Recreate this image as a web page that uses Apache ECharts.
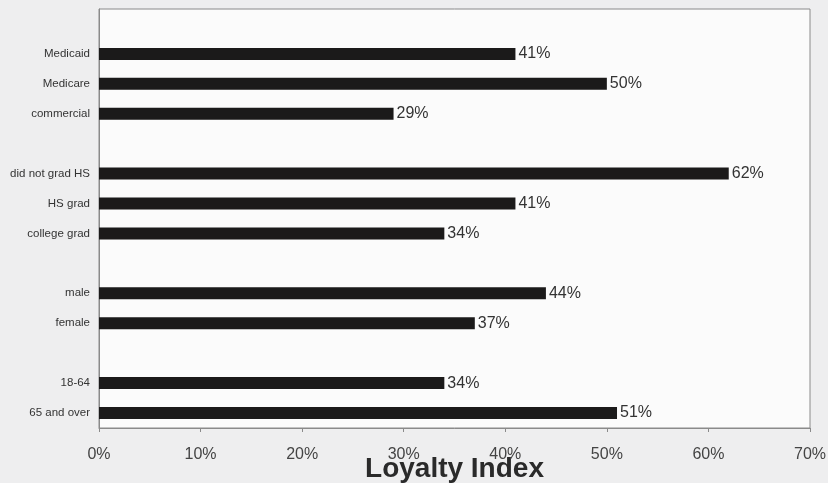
<!DOCTYPE html>
<html>
<head>
<meta charset="utf-8">
<script src="https://cdn.jsdelivr.net/npm/echarts@6/dist/echarts.min.js"></script>
<style>
  html, body { margin: 0; padding: 0; background: #eeeeef; }
  #chart { width: 828px; height: 483px; }
</style>
</head>
<body>
<div id="chart"></div>
<script>
// Groups are separated by empty category slots (top to bottom order).
const categories = ['', 'Medicaid', 'Medicare', 'commercial', '', 'did not grad HS', 'HS grad', 'college grad', '', 'male', 'female', '', '18-64', '65 and over'];
const loyalty = [null, 41, 50, 29, null, 62, 41, 34, null, 44, 37, null, 34, 51];
const xTicks = { min: 0, max: 70, step: 10 };
const axisTitle = 'Loyalty Index';

const chart = echarts.init(document.getElementById('chart'), null, { renderer: 'canvas' });

chart.setOption({
  backgroundColor: '#eeeeef',
  animation: false,
  textStyle: { fontFamily: 'Liberation Sans, Arial, sans-serif' },
  grid: {
    left: 99, right: 18, top: 9, bottom: 55,
    containLabel: false,
    outerBoundsMode: 'none',
    show: true,
    backgroundColor: '#fbfbfb',
    borderColor: '#8a8a8a',
    borderWidth: 1
  },
  xAxis: {
    type: 'value',
    min: xTicks.min,
    max: xTicks.max,
    interval: xTicks.step,
    name: axisTitle,
    nameLocation: 'middle',
    nameGap: 27,
    nameMoveOverlap: false,
    nameTextStyle: { fontSize: 28, fontWeight: 'bold', color: '#2a2a2a', fontFamily: 'Liberation Sans, Arial, sans-serif' },
    axisLine: { show: true, lineStyle: { color: '#8a8a8a', width: 1 } },
    axisTick: { show: true, inside: false, length: 4, lineStyle: { color: '#8a8a8a' } },
    axisLabel: { formatter: '{value}%', fontSize: 16, color: '#444', margin: 19 },
    splitLine: { show: false }
  },
  yAxis: {
    type: 'category',
    data: categories,
    inverse: true,
    axisLine: { show: true, lineStyle: { color: '#8a8a8a', width: 1 } },
    axisTick: { show: false },
    axisLabel: { fontSize: 11.5, color: '#333', margin: 9, interval: 0 },
    splitLine: { show: false }
  },
  series: [{
    type: 'bar',
    data: loyalty,
    barWidth: 12,
    itemStyle: { color: '#1b1a1a' },
    label: {
      show: true,
      position: 'right',
      distance: 3,
      formatter: p => p.value == null ? '' : p.value + '%',
      fontSize: 16,
      color: '#333'
    }
  }]
});
</script>
</body>
</html>
